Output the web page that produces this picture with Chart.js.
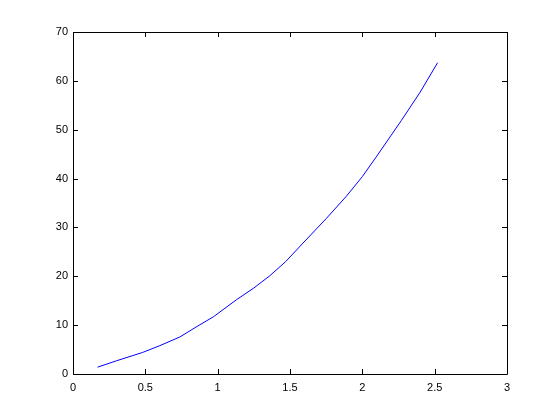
<!DOCTYPE html>
<html>
<head>
<meta charset="utf-8">
<script src="https://cdn.jsdelivr.net/npm/chart.js@4/dist/chart.umd.min.js"></script>
<style>
  body { margin: 0; background: #fff; }
  canvas { display: block; }
</style>
</head>
<body>
<canvas id="chart" width="560" height="420"></canvas>
<script>
// values
const xValues = [0.17, 0.30, 0.48, 0.60, 0.74, 0.85, 0.97, 1.13, 1.25, 1.36, 1.47, 1.59, 1.75, 1.89, 2.00, 2.10, 2.27, 2.40, 2.52];
const yValues = [1.4, 2.7, 4.4, 5.8, 7.6, 9.6, 11.7, 15.2, 17.6, 20.1, 23.0, 26.8, 31.8, 36.4, 40.4, 44.6, 51.9, 57.7, 63.7];
const xTicks = [0, 0.5, 1, 1.5, 2, 2.5, 3];
const yTicks = [0, 10, 20, 30, 40, 50, 60, 70];

const points = xValues.map((x, i) => ({ x: x, y: yValues[i] }));

// box round the axes with inward tick marks on all four sides
const boxPlugin = {
  id: 'box',
  afterDraw(chart) {
    const ctx = chart.ctx;
    const a = chart.chartArea;
    const xs = chart.scales.x;
    const ys = chart.scales.y;
    const len = 5;
    ctx.save();
    ctx.strokeStyle = '#000';
    ctx.lineWidth = 1;
    ctx.beginPath();
    ctx.rect(Math.round(a.left) + 0.5, Math.round(a.top) + 0.5,
             Math.round(a.right - a.left), Math.round(a.bottom - a.top));
    xTicks.forEach(v => {
      const px = Math.round(xs.getPixelForValue(v)) + 0.5;
      ctx.moveTo(px, a.bottom);
      ctx.lineTo(px, a.bottom - len);
      ctx.moveTo(px, a.top);
      ctx.lineTo(px, a.top + len);
    });
    yTicks.forEach(v => {
      const py = Math.round(ys.getPixelForValue(v)) + 0.5;
      ctx.moveTo(a.left, py);
      ctx.lineTo(a.left + len, py);
      ctx.moveTo(a.right, py);
      ctx.lineTo(a.right - len, py);
    });
    ctx.stroke();
    ctx.restore();
  }
};

const font = { family: 'Liberation Sans, Arial, sans-serif', size: 11 };

new Chart(document.getElementById('chart'), {
  type: 'line',
  data: {
    datasets: [{
      data: points,
      borderColor: '#0000ff',
      borderWidth: 1,
      pointRadius: 0,
      tension: 0,
      fill: false
    }]
  },
  options: {
    responsive: false,
    animation: false,
    layout: { padding: { left: 0, top: 32, right: 53, bottom: 0 } },
    plugins: {
      legend: { display: false },
      tooltip: { enabled: false }
    },
    scales: {
      x: {
        type: 'linear',
        min: 0,
        max: 3,
        afterBuildTicks: s => { s.ticks = xTicks.map(v => ({ value: v })); },
        afterFit: s => { s.height = 46; },
        grid: { display: false, drawTicks: false },
        border: { display: false },
        ticks: { color: '#000', font: font, padding: 7, maxRotation: 0,
                 callback: v => String(v) }
      },
      y: {
        type: 'linear',
        min: 0,
        max: 70,
        afterBuildTicks: s => { s.ticks = yTicks.map(v => ({ value: v })); },
        afterFit: s => { s.width = 73; },
        grid: { display: false, drawTicks: false },
        border: { display: false },
        ticks: { color: '#000', font: font, padding: 5,
                 callback: v => String(v) }
      }
    }
  },
  plugins: [boxPlugin]
});
</script>
</body>
</html>
